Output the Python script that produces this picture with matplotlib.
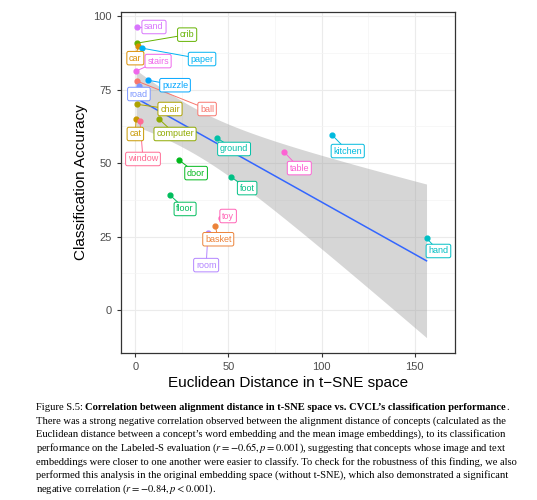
import numpy as np
import matplotlib.pyplot as plt

# data
words = ['sand', 'crib', 'car', 'paper', 'stairs', 'puzzle', 'ball', 'road', 'chair', 'cat', 'window',
         'computer', 'ground', 'door', 'foot', 'floor', 'toy', 'basket', 'room', 'table', 'kitchen', 'hand']
distance = [0.9, 0.9, 1.5, 3.6, 0.4, 6.8, 0.9, 2.0, 0.9, 0.4, 2.5,
            12.7, 43.9, 23.5, 51.5, 18.6, 46.0, 42.9, 39.0, 80.0, 105.7, 156.3]
accuracy = [96.3, 90.8, 89.8, 89.1, 81.3, 78.2, 77.9, 76.2, 70.0, 65.0, 64.3,
            65.0, 58.5, 51.0, 45.2, 39.1, 31.3, 28.6, 26.2, 53.7, 59.5, 24.5]
# label box positions (data coords)
label_x = [10.0, 27.8, 0.0, 35.8, 12.2, 21.3, 38.5, 1.9, 18.6, 0.0, 4.1,
           21.3, 53.0, 32.6, 60.0, 26.7, 49.8, 44.5, 38.0, 88.0, 114.0, 162.7]
label_y = [96.3, 93.7, 85.7, 85.4, 84.7, 76.5, 68.4, 73.5, 68.4, 59.9, 51.4,
           59.9, 54.8, 46.6, 41.5, 34.4, 32.0, 24.1, 15.3, 48.3, 54.1, 20.1]

caption_lead = "Figure S.5: "
caption_title = "Correlation between alignment distance in t-SNE space vs. CVCL\u2019s classification performance"
caption_body = [
    "There was a strong negative correlation observed between the alignment distance of concepts (calculated as the",
    "Euclidean distance between a concept\u2019s word embedding and the mean image embeddings), to its classification",
    "performance on the Labeled-S evaluation ($r=-0.65, p=0.001$), suggesting that concepts whose image and text",
    "embeddings were closer to one another were easier to classify. To check for the robustness of this finding, we also",
    "performed this analysis in the original embedding space (without t-SNE), which also demonstrated a significant",
    "negative correlation ($r=-0.84, p<0.001$).",
]


def hcl(h, c=100, l=65):
    h = np.radians(h)
    u, v = c * np.cos(h), c * np.sin(h)
    Xn, Yn, Zn = 95.047, 100.0, 108.883
    un = 4 * Xn / (Xn + 15 * Yn + 3 * Zn)
    vn = 9 * Yn / (Xn + 15 * Yn + 3 * Zn)
    Y = Yn * ((l + 16) / 116) ** 3
    up = u / (13 * l) + un
    vp = v / (13 * l) + vn
    X = Y * 9 * up / (4 * vp)
    Z = Y * (12 - 3 * up - 20 * vp) / (4 * vp)
    M = np.array([[3.2406, -1.5372, -0.4986], [-0.9689, 1.8758, 0.0415], [0.0557, -0.2040, 1.0570]])
    rgb = M @ (np.array([X, Y, Z]) / 100)
    rgb = np.where(rgb <= 0.0031308, 12.92 * rgb, 1.055 * np.clip(rgb, 0, None) ** (1 / 2.4) - 0.055)
    return tuple(np.clip(rgb, 0, 1))


order = sorted(words)
hues = np.linspace(15, 375, len(order) + 1)[:-1]
colors = {w: hcl(h) for w, h in zip(order, hues)}

plt.rcParams['font.family'] = ['Liberation Sans', 'DejaVu Sans']
plt.rcParams['mathtext.fontset'] = 'stix'
fig = plt.figure(figsize=(5.37, 5.0), dpi=100)
ax = fig.add_axes([0.225, 0.294, 0.622, 0.682])

x = np.array(distance)
y = np.array(accuracy)
n = len(x)
b, a = np.polyfit(x, y, 1)
xs = np.linspace(x.min(), x.max(), 100)
ys = a + b * xs
s = np.sqrt(np.sum((y - (a + b * x)) ** 2) / (n - 2))
se = s * np.sqrt(1 / n + (xs - x.mean()) ** 2 / np.sum((x - x.mean()) ** 2))
ax.fill_between(xs, ys - 2.086 * se, ys + 2.086 * se, color='#999999', alpha=0.4, lw=0, zorder=1)
ax.plot(xs, ys, color='#3366FF', lw=1.1, zorder=2)

for w, xi, yi, lx, ly in zip(words, distance, accuracy, label_x, label_y):
    c = colors[w]
    ax.plot([xi, lx], [yi, ly], color=c, lw=0.7, zorder=3)
    ax.scatter([xi], [yi], color=c, s=12, zorder=4)
    ax.text(lx, ly, w, color=c, fontsize=6.5, ha='center', va='center', zorder=5,
            bbox=dict(boxstyle='round,pad=0.25,rounding_size=0.2', fc='white', ec=c, lw=0.7))

ax.set_xlim(-7.8, 171.5)
ax.set_ylim(-14.6, 101.4)
ax.set_xticks([0, 50, 100, 150])
ax.set_yticks([0, 25, 50, 75, 100])
ax.set_xticks([25, 75, 125], minor=True)
ax.set_yticks([12.5, 37.5, 62.5, 87.5], minor=True)
ax.grid(True, which='major', color='#EBEBEB', lw=0.8)
ax.grid(True, which='minor', color='#F4F4F4', lw=0.5)
ax.set_axisbelow(True)
for sp in ax.spines.values():
    sp.set_color('#333333')
    sp.set_linewidth(0.9)
ax.tick_params(which='major', colors='#333333', labelcolor='#4D4D4D', labelsize=8, length=3)
ax.tick_params(which='minor', length=0)
ax.set_xlabel('Euclidean Distance in t\u2212SNE space', fontsize=11, labelpad=3)
ax.set_ylabel('Classification Accuracy', fontsize=11, labelpad=4)

# caption
serif = ['Liberation Serif', 'DejaVu Serif']
fs = 7.6
x0 = 0.067
y0 = 1 - 407 / 500
step = 0.0274
t1 = fig.text(x0, y0, caption_lead, family=serif, fontsize=fs, va='center')
fig.canvas.draw()
bb = t1.get_window_extent().transformed(fig.transFigure.inverted())
t2 = fig.text(bb.x1, y0, caption_title, family=serif, fontsize=fs, fontweight='bold', va='center')
fig.canvas.draw()
bb2 = t2.get_window_extent().transformed(fig.transFigure.inverted())
fig.text(bb2.x1, y0, '.', family=serif, fontsize=fs, va='center')
for i, line in enumerate(caption_body):
    fig.text(x0, y0 - (i + 1) * step, line, family=serif, fontsize=fs, va='center')

fig.savefig('out.png', dpi=100)
